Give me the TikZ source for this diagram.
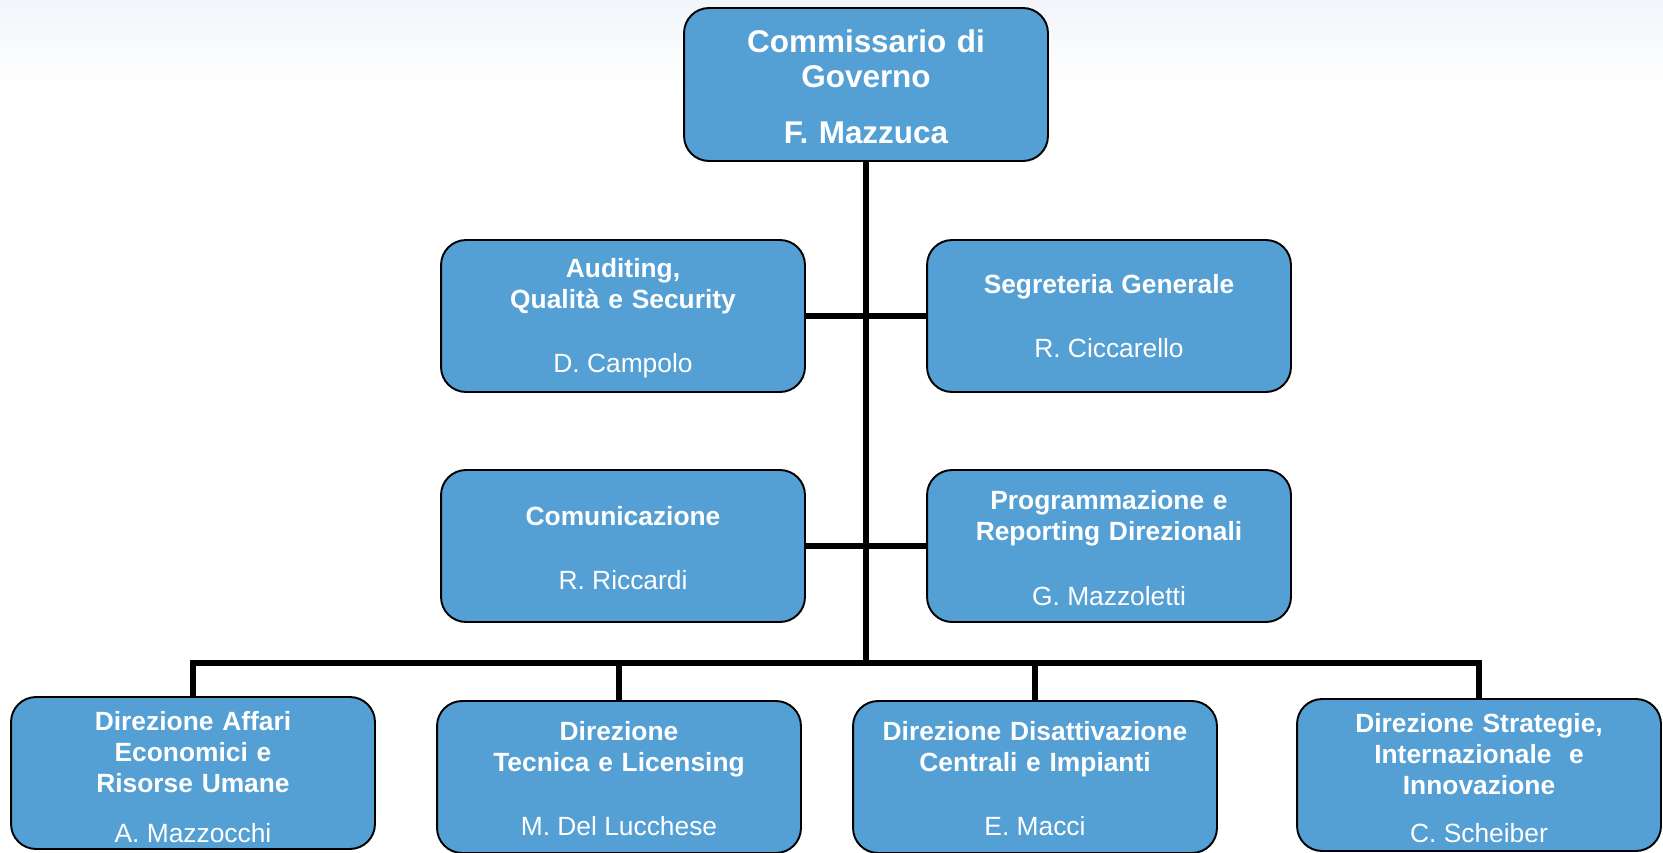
\documentclass[tikz,border=0pt]{standalone}
\usepackage{fontspec}
\setmainfont{Liberation Sans}
\definecolor{boxblue}{RGB}{84,159,212}
\definecolor{haze}{RGB}{242,246,250}
\begin{document}
\begin{tikzpicture}[x=0.02cm, y=-0.02cm,
  unit/.style={draw=black, line width=1.1pt, fill=boxblue, rounded corners=0.5cm,
    minimum width=7.28cm, minimum height=3.04cm, inner sep=0pt},
  head/.style={text=white, text width=6.8cm, align=center, inner sep=0pt, anchor=base,
    font=\fontsize{15}{17.9}\selectfont\bfseries},
  who/.style={text=white, inner sep=0pt, anchor=base, font=\fontsize{15}{17.9}\selectfont},
  chief/.style={head, font=\fontsize{17.9}{20.4}\selectfont\bfseries},
  trunk/.style={line width=3.4pt},
  drop/.style={line width=2.9pt}
]
\useasboundingbox (0,0) rectangle (1663,852);
\shade[top color=haze, bottom color=white] (0,0) rectangle (1663,95);

\coordinate (bus) at (866,663);

% vertice
\node[unit, minimum height=3.06cm] (comm) at (866,84.5) {};
\node[chief] (comm-t) at (866,52) {Commissario di\\Governo};
\node[chief] (comm-n) at (866,143) {F. Mazzuca};

% staff
\draw[trunk] (comm.south) -- (comm.south |- bus);
\node[unit] (audit) at (623,316) {};
\node[unit] (segr) at (1109,316) {};
\node[unit] (comu) at (623,546) {};
\node[unit] (prog) at (1109,546) {};
\draw[trunk] (audit.east) -- (segr.west);
\draw[trunk] (comu.east) -- (prog.west);

\node[head] (audit-t) at (623,277) {Auditing,\\Qualità e Security};
\node[who] (audit-n) at (623,372) {D. Campolo};
\node[head] (segr-t) at (1109,293) {Segreteria Generale};
\node[who] (segr-n) at (1109,357) {R. Ciccarello};
\node[head] (comu-t) at (623,525) {Comunicazione};
\node[who] (comu-n) at (623,589) {R. Riccardi};
\node[head] (prog-t) at (1109,509) {Programmazione e\\Reporting Direzionali};
\node[who] (prog-n) at (1109,605) {G. Mazzoletti};

% direzioni
\foreach \nm/\x/\y/\ty/\ny/\t/\p in {
  dafru/193/773/730/842/{Direzione Affari\\Economici e\\Risorse Umane}/{A. Mazzocchi},
  dtl/619/777/740/835/{Direzione\\Tecnica e Licensing}/{M. Del Lucchese},
  ddci/1035/777/740/835/{Direzione Disattivazione\\Centrali e Impianti}/{E. Macci},
  dsii/1479/775/732/842/{Direzione Strategie,\\Internazionale~ e\\Innovazione}/{C. Scheiber}} {
  \node[unit] (\nm) at (\x,\y) {};
  \node[head] (\nm-t) at (\x,\ty) {\t};
  \node[who] (\nm-n) at (\x,\ny) {\p};
  \draw[drop] (\nm.north) -- (\nm.north |- bus);
}
\draw[trunk, line cap=rect] (dafru.north |- bus) -- (dsii.north |- bus);
\end{tikzpicture}
\end{document}
